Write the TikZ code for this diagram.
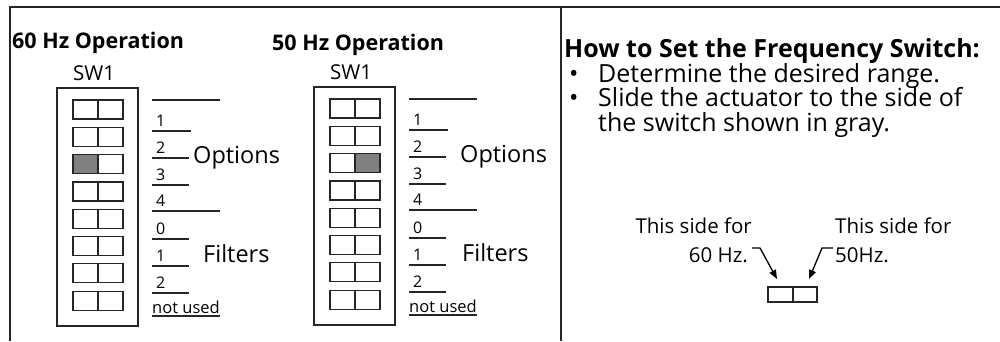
\documentclass[tikz,border=0pt]{standalone}
\usepackage{fontspec}
\setmainfont{Open Sans}
\usetikzlibrary{arrows.meta, positioning}

\begin{document}
\begin{tikzpicture}[x=1pt, y=-1pt,
    frame/.style={line width=2.5pt, black!85},
    housing/.style={draw, line width=1.2pt, black!85},
    cell/.style={draw, line width=1.2pt, black!85},
    lead/.style={line width=1.1pt, black!85},
    heading/.style={font=\bfseries\fontsize{21.5}{24}\selectfont, anchor=base west, inner sep=0pt},
    tag/.style={font=\fontsize{23.5}{26}\selectfont, anchor=base west, inner sep=0pt},
    num/.style={font=\fontsize{16}{18}\selectfont, anchor=base west, inner sep=0pt},
    body/.style={font=\fontsize{25}{28}\selectfont, anchor=base west, inner sep=0pt},
    sidenote/.style={font=\fontsize{20.5}{24}\selectfont, inner sep=0pt},
    pointer/.style={-{Triangle[length=9pt, width=7pt]}, line width=1.3pt},
]
    \useasboundingbox (0,0) rectangle (1000,341);

    % outer frame and divider
    \draw[frame] (10,341) -- (10,7) -- (1000,7);
    \draw[frame] (561,7) -- (561,341);

    % headings over the two switches
    \node[heading] (h60) at (12,48) {60 Hz Operation};
    \node[heading] (h50) at (272,50) {50 Hz Operation};

    % the two DIP switches
    \foreach \dx/\dy/\gx/\ox/\fx/\nm in {0/0/0/193/203/a, 257/-1/25/460/462/b} {
        \node[tag, font=\fontsize{20.5}{24}\selectfont] (sw-\nm) at (73+\dx, 80+\dy) {SW1};
        \draw[housing] (57+\dx, 88+\dy) rectangle (138+\dx, 326+\dy);
        \foreach \i in {0,...,7} {
            \draw[cell] (73+\dx, 100+27.3*\i+\dy) rectangle ++(25,19);
            \draw[cell] (98+\dx, 100+27.3*\i+\dy) rectangle ++(25,19);
        }
        \draw[cell, fill=black!50] (73+\gx+\dx, 154.6+\dy) rectangle ++(25,19);

        % position numbers with their rules
        \draw[lead] (152+\dx, 100+\dy) -- ++(68,0);
        \foreach \n/\ly/\len in {1/131/39, 2/158/37, 3/185/37, 4/211/68,
                                 0/239/37, 1/266/37, 2/293/37} {
            \node[num] (n-\nm-\ly) at (156+\dx, \ly-5+\dy) {\n};
            \draw[lead] (152+\dx, \ly+\dy) -- ++(\len,0);
        }
        \node[num, font=\fontsize{16.5}{18}\selectfont] (nu-\nm) at (152+\dx, 313+\dy) {not used};
        \draw[lead] (152+\dx, 316+\dy) -- ++(68,0);

        \node[tag] (opt-\nm) at (\ox, 163+\dy) {Options};
        \node[tag] (fil-\nm) at (\fx, 262+\dy) {Filters};
    }

    % instructions
    \node[body, font=\bfseries\fontsize{25}{28}\selectfont] (howto) at (564,57) {How to Set the Frequency Switch:};
    \node[body] (b1) at (569,82) {\textbullet};
    \node[body] (t1) at (598,82) {Determine the desired range.};
    \node[body] (b2) at (569,106) {\textbullet};
    \node[body] (t2) at (598,106) {Slide the actuator to the side of};
    \node[body] (t3) at (598,131) {the switch shown in gray.};

    % actuator sketch
    \node[sidenote, anchor=base east] (s60a) at (752,233) {This side for};
    \node[sidenote, anchor=base east] (s60b) at (748,262) {60 Hz.};
    \node[sidenote, anchor=base west] (s50a) at (835,233) {This side for};
    \node[sidenote, anchor=base west] (s50b) at (835,262) {50Hz.};
    \node[cell, minimum width=25pt, minimum height=15pt, inner sep=0pt] (act60) at (780.5,294.5) {};
    \node[cell, minimum width=24pt, minimum height=15pt, inner sep=0pt] (act50) at (805,294.5) {};
    \coordinate (tip60) at (777,279);
    \coordinate (tip50) at (809,279);
    \draw[pointer] ([shift={(4,-14)}]s60b.base east) -- ++(8,0) -- (tip60);
    \draw[pointer] ([shift={(-2,-14)}]s50b.base west) -- ++(-11,0) -- (tip50);
\end{tikzpicture}
\end{document}
